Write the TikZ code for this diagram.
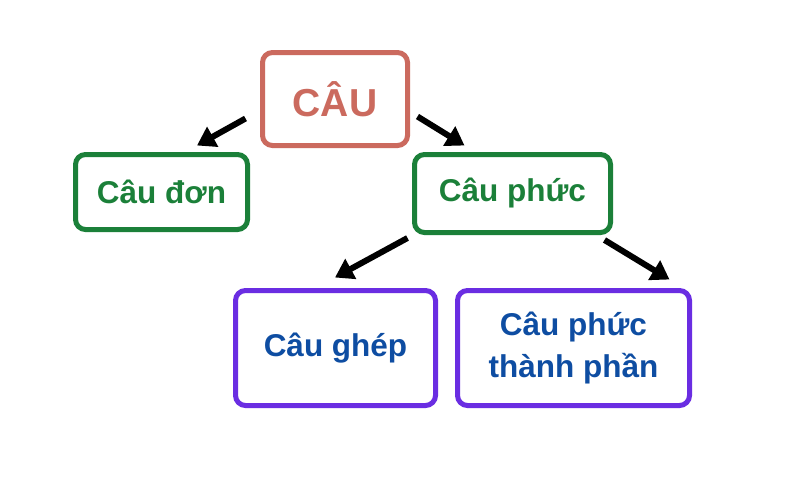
\documentclass[tikz,border=0pt]{standalone}
\usepackage{fontspec}
\setmainfont{Liberation Sans}
\usetikzlibrary{arrows.meta,calc}
\definecolor{salmon}{HTML}{CB6A5E}
\definecolor{grn}{HTML}{1B8039}
\definecolor{purp}{HTML}{6A2DE2}
\definecolor{blu}{HTML}{0E4DA2}
\begin{document}
\begin{tikzpicture}[x=1pt,y=-1pt,
  box/.style={draw,line width=5pt,rounded corners=10pt,inner sep=0pt,align=center,font=\bfseries\fontsize{31.5}{43}\selectfont},
  top/.style={box,draw=salmon,text=salmon,font=\bfseries\fontsize{39}{45}\selectfont},
  mid/.style={box,draw=grn,text=grn},
  low/.style={box,draw=purp,text=blu},
  arr/.style={line width=6pt,-{Triangle[length=18pt,width=22pt]}}]
\fill[white] (0,0) rectangle (800,483);
\useasboundingbox (0,0) rectangle (800,483);
\node[top,minimum width=145pt,minimum height=93pt] (cau) at (335,99) {CÂU};
\node[mid,minimum width=172pt,minimum height=75pt] (don) at (161.5,192) {Câu đơn};
\node[mid,minimum width=196pt,minimum height=78pt] (phuc) at (512.5,193.5) {Câu phức};
\node[low,minimum width=200pt,minimum height=115pt] (ghep) at (335.5,348) {Câu ghép};
\node[low,minimum width=232pt,minimum height=115pt] (tp) at (573.5,348) {Câu phức\\thành phần};
\draw[arr] ($(cau.south west)+(-14.5,-29.5)$) -- ($(don.north)+(35.5,-6.5)$);
\draw[arr] ($(cau.south east)+(7.5,-31.5)$) -- ($(phuc.north west)+(52.5,-6.5)$);
\draw[arr] ($(phuc.south west)+(-4.5,3)$) -- ($(ghep.north)+(-0.5,-10.5)$);
\draw[arr] ($(phuc.south east)+(-8.5,5)$) -- ($(tp.north east)+(-22.5,-8.5)$);
\end{tikzpicture}
\end{document}
